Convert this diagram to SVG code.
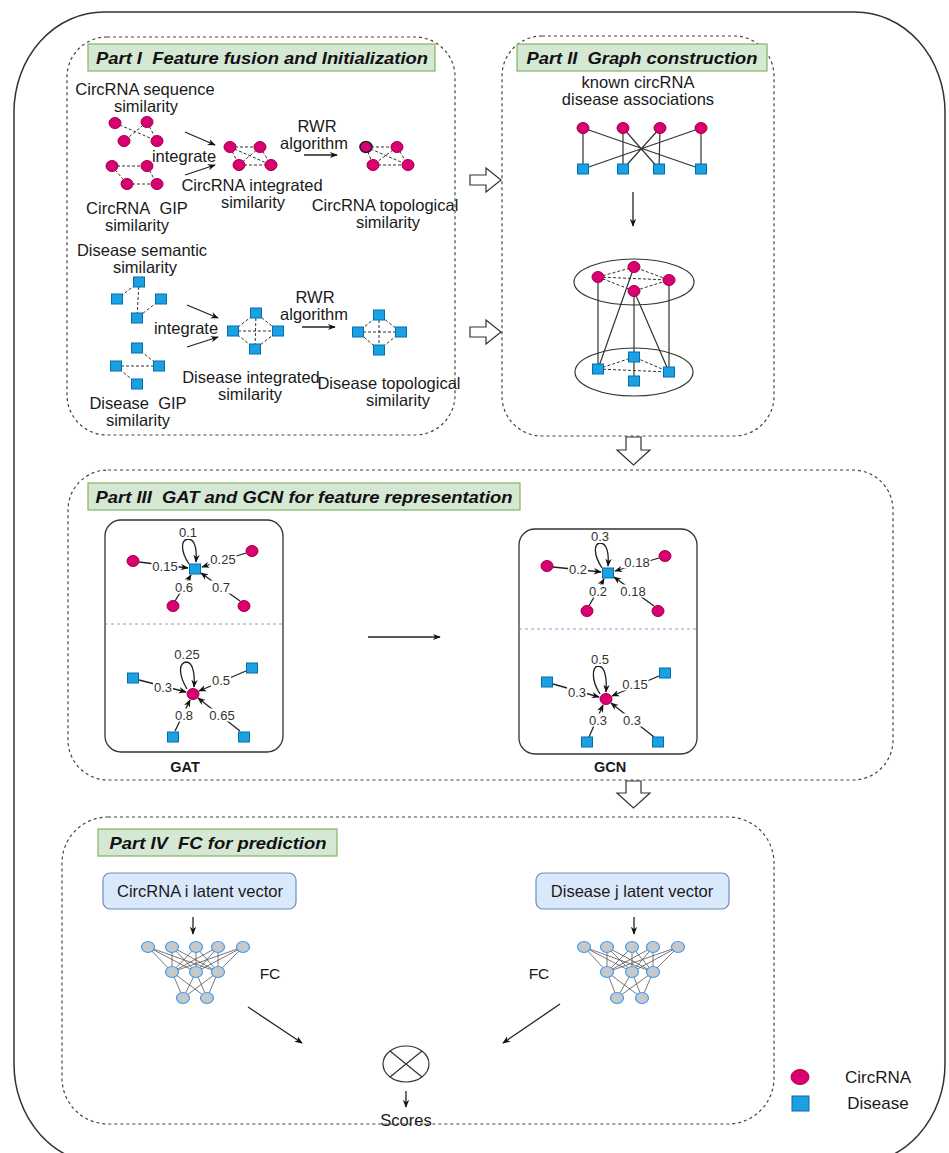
<svg xmlns="http://www.w3.org/2000/svg" xmlns:xlink="http://www.w3.org/1999/xlink" width="949" height="1153" viewBox="0 0 949 1153">
<style>
text{font-family:"Liberation Sans",Arial,sans-serif;fill:#1a1a1a;dominant-baseline:central;text-anchor:middle}
.lbl{font-size:16.5px}
.ttl{font-size:16.5px;font-weight:bold;font-style:italic;fill:#111}
.num{font-size:13px;fill:#333}
.nb{fill:#fff;stroke:none}
.part{fill:none;stroke:#444;stroke-width:1.2;stroke-dasharray:3 3}
.tbox{fill:#d5e8d4;stroke:#82b366;stroke-width:1.2}
.c{fill:#d80073;stroke:#a50040;stroke-width:1}
.d{fill:#1ba1e2;stroke:#006eaf;stroke-width:1}
.dash{stroke:#333;stroke-width:1;stroke-dasharray:3 2;fill:none}
.sol{stroke:#333;stroke-width:1.2;fill:none}
.arr{stroke:#222;stroke-width:1.3;fill:none;marker-end:url(#ah)}
.hollow{fill:#fff;stroke:#333;stroke-width:1.2}
.fc{fill:#c8c8c8;stroke:#3d9bf5;stroke-width:1.2}
.fcl{stroke:#555;stroke-width:0.8}
.vec{fill:#dae8fc;stroke:#6c8ebf;stroke-width:1.2}
</style>
<defs>
<marker id="ah" viewBox="0 0 10 10" refX="9" refY="5" markerWidth="8" markerHeight="8" markerUnits="userSpaceOnUse" orient="auto">
<path d="M0,1 L10,5 L0,9 L3,5 z" fill="#111"/>
</marker>
<ellipse id="cn" rx="6" ry="5.5"/>
<rect id="sq" x="-5.5" y="-5" width="11" height="10"/>
</defs>

<rect id="frame" x="14" y="12" width="931" height="1152" rx="90" ry="100" fill="none" stroke="#333" stroke-width="1.5"/>

<!-- Part I -->
<g id="part1">
<rect class="part" x="67" y="37" width="388" height="398" rx="40"/>
<rect class="tbox" x="88" y="44" width="347" height="27"/>
<text class="ttl" x="262" y="58" textLength="332" lengthAdjust="spacingAndGlyphs">Part I&#160; Feature fusion and Initialization</text>
</g>

<g id="circ-seq">
<line class="dash" x1="115" y1="123" x2="157" y2="141"/><line class="dash" x1="147" y1="122" x2="124" y2="141"/><line class="dash" x1="147" y1="122" x2="157" y2="141"/>
<use href="#cn" class="c" x="115" y="123"/><use href="#cn" class="c" x="147" y="122"/><use href="#cn" class="c" x="124" y="141"/><use href="#cn" class="c" x="157" y="141"/>
<text class="lbl" x="145" y="89">CircRNA sequence</text><text class="lbl" x="146" y="106">similarity</text>
</g>
<g id="circ-gip">
<line class="dash" x1="112" y1="166" x2="147" y2="166"/><line class="dash" x1="112" y1="166" x2="127" y2="184"/><line class="dash" x1="147" y1="166" x2="157" y2="184"/><line class="dash" x1="127" y1="184" x2="157" y2="184"/>
<use href="#cn" class="c" x="112" y="166"/><use href="#cn" class="c" x="147" y="166"/><use href="#cn" class="c" x="127" y="184"/><use href="#cn" class="c" x="157" y="184"/>
<text class="lbl" x="137" y="208">CircRNA&#160; GIP</text><text class="lbl" x="137" y="225">similarity</text>
</g>
<g id="circ-int">
<line class="dash" x1="230" y1="147" x2="260" y2="147"/><line class="dash" x1="230" y1="147" x2="271" y2="165"/><line class="dash" x1="260" y1="147" x2="239" y2="165"/><line class="dash" x1="239" y1="165" x2="271" y2="165"/><line class="dash" x1="260" y1="147" x2="271" y2="165"/><line class="dash" x1="230" y1="147" x2="239" y2="165"/>
<use href="#cn" class="c" x="230" y="147"/><use href="#cn" class="c" x="260" y="147"/><use href="#cn" class="c" x="239" y="165"/><use href="#cn" class="c" x="271" y="165"/>
<text class="lbl" x="252" y="185">CircRNA integrated</text><text class="lbl" x="253" y="202">similarity</text>
</g>
<g id="circ-topo">
<line class="dash" x1="366" y1="147" x2="397" y2="147"/><line class="dash" x1="366" y1="147" x2="408" y2="165"/><line class="dash" x1="397" y1="147" x2="373" y2="165"/><line class="dash" x1="373" y1="165" x2="408" y2="165"/><line class="dash" x1="397" y1="147" x2="408" y2="165"/><line class="dash" x1="366" y1="147" x2="373" y2="165"/>
<use href="#cn" class="c" x="366" y="147" style="stroke:#222;stroke-width:1.6"/><use href="#cn" class="c" x="397" y="147"/><use href="#cn" class="c" x="373" y="165"/><use href="#cn" class="c" x="408" y="165"/>
<text class="lbl" x="385" y="205">CircRNA topological</text><text class="lbl" x="388" y="222">similarity</text>
</g>

<g id="dis-sem">
<line class="dash" x1="139" y1="282" x2="117" y2="299"/><line class="dash" x1="139" y1="282" x2="137" y2="318"/><line class="dash" x1="161" y1="299" x2="137" y2="318"/>
<use href="#sq" class="d" x="139" y="282"/><use href="#sq" class="d" x="117" y="299"/><use href="#sq" class="d" x="161" y="299"/><use href="#sq" class="d" x="137" y="318"/>
<text class="lbl" x="142" y="250">Disease semantic</text><text class="lbl" x="145" y="267">similarity</text>
</g>
<g id="dis-gip">
<line class="dash" x1="116" y1="366" x2="159" y2="366"/><line class="dash" x1="137" y1="348" x2="159" y2="366"/><line class="dash" x1="116" y1="366" x2="137" y2="384"/>
<use href="#sq" class="d" x="137" y="348"/><use href="#sq" class="d" x="116" y="366"/><use href="#sq" class="d" x="159" y="366"/><use href="#sq" class="d" x="137" y="384"/>
<text class="lbl" x="138" y="403">Disease&#160; GIP</text><text class="lbl" x="138" y="420">similarity</text>
</g>
<g id="dis-int">
<path class="dash" d="M256,313 L233,331 L255,349 L278,331 Z M233,331 L278,331 M256,313 L255,349"/>
<use href="#sq" class="d" x="256" y="313"/><use href="#sq" class="d" x="233" y="331"/><use href="#sq" class="d" x="278" y="331"/><use href="#sq" class="d" x="255" y="349"/>
<text class="lbl" x="251" y="377">Disease integrated</text><text class="lbl" x="250" y="394">similarity</text>
</g>
<g id="dis-topo">
<path class="dash" d="M379,315 L358,332 L379,350 L401,332 Z M358,332 L401,332 M379,315 L379,350"/>
<use href="#sq" class="d" x="379" y="315"/><use href="#sq" class="d" x="358" y="332"/><use href="#sq" class="d" x="401" y="332"/><use href="#sq" class="d" x="379" y="350"/>
<text class="lbl" x="389" y="383">Disease topological</text><text class="lbl" x="398" y="400">similarity</text>
</g>

<g id="part1-labels">
<text class="lbl" x="184" y="156">integrate</text>
<text class="lbl" x="317" y="126">RWR</text><text class="lbl" x="314" y="143">algorithm</text>
<text class="lbl" x="186" y="328">integrate</text>
<text class="lbl" x="315" y="297">RWR</text><text class="lbl" x="314" y="314">algorithm</text>
</g>

<!-- Part II -->
<g id="part2">
<rect class="part" x="502" y="36" width="272" height="400" rx="40"/>
<rect class="tbox" x="517" y="44" width="250" height="27"/>
<text class="ttl" x="642" y="58" textLength="231" lengthAdjust="spacingAndGlyphs">Part II&#160; Graph construction</text>
<text class="lbl" x="638" y="82">known circRNA</text><text class="lbl" x="638" y="99">disease associations</text>
</g>
<g id="bipartite">
<path class="sol" d="M583,128 L583,169 M583,128 L701,169 M623,128 L623,169 M623,128 L659,169 M660,128 L659,169 M660,128 L623,169 M701,128 L701,169 M701,128 L583,169"/>
<use href="#cn" class="c" x="583" y="128"/><use href="#cn" class="c" x="623" y="128"/><use href="#cn" class="c" x="660" y="128"/><use href="#cn" class="c" x="701" y="128"/>
<use href="#sq" class="d" x="583" y="169"/><use href="#sq" class="d" x="623" y="169"/><use href="#sq" class="d" x="659" y="169"/><use href="#sq" class="d" x="701" y="169"/>
</g>
<g id="hetero-graph">
<ellipse cx="634" cy="282" rx="60" ry="23" class="sol"/>
<ellipse cx="634" cy="372" rx="59" ry="24" class="sol"/>
<path class="dash" d="M598,277 L634,267 L669,280 M598,277 L669,280 M598,277 L634,291 L669,280"/>
<path class="dash" d="M598,369 L634,357 L669,372 M598,369 L669,372"/>
<path class="sol" d="M598,277 L598,369 M634,267 L598,369 M634,291 L634,381 M634,291 L669,372 M669,280 L669,372"/>
<use href="#cn" class="c" x="598" y="277"/><use href="#cn" class="c" x="634" y="267"/><use href="#cn" class="c" x="669" y="280"/><use href="#cn" class="c" x="634" y="291"/>
<use href="#sq" class="d" x="598" y="369"/><use href="#sq" class="d" x="634" y="357"/><use href="#sq" class="d" x="669" y="372"/><use href="#sq" class="d" x="634" y="381"/>
</g>

<!-- Part III -->
<g id="part3">
<rect class="part" x="68" y="470" width="825" height="310" rx="40"/>
<rect class="tbox" x="88" y="483" width="432" height="27"/>
<text class="ttl" x="304" y="497" textLength="417" lengthAdjust="spacingAndGlyphs">Part III&#160; GAT and GCN for feature representation</text>
</g>
<g id="gat">
<rect x="105" y="520" width="178" height="232" rx="16" fill="none" stroke="#333" stroke-width="1.3"/>
<line x1="105" y1="624" x2="283" y2="624" stroke="#7ea6e0" stroke-width="1" stroke-dasharray="3 3"/>
<text x="185" y="767" style="font-size:14.5px;font-weight:bold">GAT</text>
<line class="arr" x1="139" y1="562" x2="188" y2="568"/>
<line class="arr" x1="246" y1="553" x2="202" y2="567"/>
<line class="arr" x1="175" y1="601" x2="191" y2="575"/>
<line class="arr" x1="240" y1="601" x2="201" y2="573"/>
<path class="arr" d="M189,564 C180,550 181,540 188,539 C195,539 197,549 196,562"/>
<use href="#sq" class="d" x="195" y="569"/>
<use href="#cn" class="c" x="133" y="561"/><use href="#cn" class="c" x="252" y="551"/><use href="#cn" class="c" x="173" y="606"/><use href="#cn" class="c" x="244" y="606"/>
<rect class="nb" x="178" y="526" width="20" height="13"/><rect class="nb" x="151.5" y="559.5" width="27" height="13"/><rect class="nb" x="209.5" y="552.5" width="27" height="13"/><rect class="nb" x="174" y="580.5" width="20" height="13"/><rect class="nb" x="211" y="580.5" width="20" height="13"/>
<text class="num" x="188" y="532">0.1</text><text class="num" x="165" y="566">0.15</text><text class="num" x="223" y="559">0.25</text><text class="num" x="184" y="587">0.6</text><text class="num" x="221" y="587">0.7</text>
<line class="arr" x1="139" y1="680" x2="186" y2="692"/>
<line class="arr" x1="246" y1="671" x2="199" y2="691"/>
<line class="arr" x1="175" y1="731" x2="190" y2="700"/>
<line class="arr" x1="240" y1="731" x2="198" y2="698"/>
<path class="arr" d="M187,689 C178,674 179,663 186,662 C193,662 195,674 194,687"/>
<use href="#cn" class="c" x="193" y="694"/>
<use href="#sq" class="d" x="133" y="678"/><use href="#sq" class="d" x="252" y="668"/><use href="#sq" class="d" x="173" y="737"/><use href="#sq" class="d" x="244" y="737"/>
<rect class="nb" x="173.5" y="648" width="27" height="13"/><rect class="nb" x="153" y="680.5" width="20" height="13"/><rect class="nb" x="211" y="673.5" width="20" height="13"/><rect class="nb" x="174" y="708.5" width="20" height="13"/><rect class="nb" x="208.5" y="708.5" width="27" height="13"/>
<text class="num" x="187" y="654">0.25</text><text class="num" x="163" y="687">0.3</text><text class="num" x="221" y="680">0.5</text><text class="num" x="184" y="715">0.8</text><text class="num" x="222" y="715">0.65</text>
</g>
<g id="gcn">
<rect x="519" y="529" width="178" height="225" rx="16" fill="none" stroke="#333" stroke-width="1.3"/>
<line x1="519" y1="629" x2="697" y2="629" stroke="#7ea6e0" stroke-width="1" stroke-dasharray="3 3"/>
<text x="610" y="767" style="font-size:14.5px;font-weight:bold">GCN</text>
<line class="arr" x1="553" y1="567" x2="601" y2="572"/>
<line class="arr" x1="659" y1="558" x2="615" y2="571"/>
<line class="arr" x1="589" y1="606" x2="604" y2="579"/>
<line class="arr" x1="654" y1="606" x2="614" y2="577"/>
<path class="arr" d="M602,568 C593,554 594,544 600,543 C607,543 609,553 608,566"/>
<use href="#sq" class="d" x="608" y="573"/>
<use href="#cn" class="c" x="547" y="566"/><use href="#cn" class="c" x="665" y="556"/><use href="#cn" class="c" x="587" y="611"/><use href="#cn" class="c" x="658" y="611"/>
<rect class="nb" x="590" y="530" width="20" height="13"/><rect class="nb" x="568" y="562.5" width="20" height="13"/><rect class="nb" x="623.5" y="555.5" width="27" height="13"/><rect class="nb" x="588" y="584.5" width="20" height="13"/><rect class="nb" x="619.5" y="584.5" width="27" height="13"/>
<text class="num" x="600" y="536">0.3</text><text class="num" x="578" y="569">0.2</text><text class="num" x="637" y="562">0.18</text><text class="num" x="598" y="591">0.2</text><text class="num" x="633" y="591">0.18</text>
<line class="arr" x1="553" y1="684" x2="599" y2="697"/>
<line class="arr" x1="659" y1="676" x2="612" y2="696"/>
<line class="arr" x1="589" y1="737" x2="603" y2="705"/>
<line class="arr" x1="654" y1="737" x2="611" y2="703"/>
<path class="arr" d="M600,694 C591,680 592,667 598,666 C605,666 607,678 606,692"/>
<use href="#cn" class="c" x="606" y="699"/>
<use href="#sq" class="d" x="547" y="682"/><use href="#sq" class="d" x="665" y="673"/><use href="#sq" class="d" x="587" y="742"/><use href="#sq" class="d" x="658" y="742"/>
<rect class="nb" x="590" y="653" width="20" height="13"/><rect class="nb" x="567" y="685.5" width="20" height="13"/><rect class="nb" x="621.5" y="677.5" width="27" height="13"/><rect class="nb" x="588" y="713.5" width="20" height="13"/><rect class="nb" x="622" y="713.5" width="20" height="13"/>
<text class="num" x="600" y="659">0.5</text><text class="num" x="577" y="692">0.3</text><text class="num" x="635" y="684">0.15</text><text class="num" x="598" y="720">0.3</text><text class="num" x="632" y="720">0.3</text>
</g>

<!-- Part IV -->
<g id="part4">
<rect class="part" x="62" y="817" width="712" height="307" rx="46"/>
<rect class="tbox" x="98" y="829" width="239" height="27"/>
<text class="ttl" x="218" y="843" textLength="217" lengthAdjust="spacingAndGlyphs">Part IV&#160; FC for prediction</text>
</g>
<g id="circ-vec">
<rect class="vec" x="103" y="873" width="193" height="36" rx="7"/>
<text class="lbl" x="200" y="891">CircRNA i latent vector</text>
</g>
<g id="dis-vec">
<rect class="vec" x="536" y="873" width="193" height="36" rx="7"/>
<text class="lbl" x="632" y="891">Disease j latent vector</text>
</g>
<g id="fc-left">
<path class="fcl" d="M148,947 L172,972 M148,947 L196,972 M148,947 L218,972 M172,947 L172,972 M172,947 L196,972 M172,947 L218,972 M196,947 L172,972 M196,947 L196,972 M196,947 L218,972 M218,947 L172,972 M218,947 L196,972 M218,947 L218,972 M243,947 L172,972 M243,947 L196,972 M243,947 L218,972 M172,972 L183,998 M172,972 L207,998 M196,972 L183,998 M196,972 L207,998 M218,972 L183,998 M218,972 L207,998"/>
<ellipse class="fc" cx="148" cy="947" rx="6.5" ry="5.5"/><ellipse class="fc" cx="172" cy="947" rx="6.5" ry="5.5"/><ellipse class="fc" cx="196" cy="947" rx="6.5" ry="5.5"/><ellipse class="fc" cx="218" cy="947" rx="6.5" ry="5.5"/><ellipse class="fc" cx="243" cy="947" rx="6.5" ry="5.5"/>
<ellipse class="fc" cx="172" cy="972" rx="6.5" ry="5.5"/><ellipse class="fc" cx="196" cy="972" rx="6.5" ry="5.5"/><ellipse class="fc" cx="218" cy="972" rx="6.5" ry="5.5"/>
<ellipse class="fc" cx="183" cy="998" rx="6.5" ry="5.5"/><ellipse class="fc" cx="207" cy="998" rx="6.5" ry="5.5"/>
<text x="270" y="973" style="font-size:15.5px">FC</text>
</g>
<g id="fc-right">
<path class="fcl" d="M584,947 L607,972 M584,947 L632,972 M584,947 L653,972 M607,947 L607,972 M607,947 L632,972 M607,947 L653,972 M632,947 L607,972 M632,947 L632,972 M632,947 L653,972 M653,947 L607,972 M653,947 L632,972 M653,947 L653,972 M678,947 L607,972 M678,947 L632,972 M678,947 L653,972 M607,972 L617,998 M607,972 L642,998 M632,972 L617,998 M632,972 L642,998 M653,972 L617,998 M653,972 L642,998"/>
<ellipse class="fc" cx="584" cy="947" rx="6.5" ry="5.5"/><ellipse class="fc" cx="607" cy="947" rx="6.5" ry="5.5"/><ellipse class="fc" cx="632" cy="947" rx="6.5" ry="5.5"/><ellipse class="fc" cx="653" cy="947" rx="6.5" ry="5.5"/><ellipse class="fc" cx="678" cy="947" rx="6.5" ry="5.5"/>
<ellipse class="fc" cx="607" cy="972" rx="6.5" ry="5.5"/><ellipse class="fc" cx="632" cy="972" rx="6.5" ry="5.5"/><ellipse class="fc" cx="653" cy="972" rx="6.5" ry="5.5"/>
<ellipse class="fc" cx="617" cy="998" rx="6.5" ry="5.5"/><ellipse class="fc" cx="642" cy="998" rx="6.5" ry="5.5"/>
<text x="539" y="973" style="font-size:15.5px">FC</text>
</g>
<g id="product">
<ellipse cx="406" cy="1064" rx="23" ry="18" class="sol"/>
<path class="sol" d="M390,1051 L422,1077 M422,1051 L390,1077"/>
<text class="lbl" x="406" y="1120">Scores</text>
</g>

<!-- Legend -->
<g id="legend">
<ellipse cx="800" cy="1077" rx="9" ry="7.5" class="c"/>
<rect x="792" y="1096" width="17" height="15" class="d"/>
<text x="878" y="1077" style="font-size:17px">CircRNA</text>
<text x="878" y="1103" style="font-size:17px">Disease</text>
</g>

<!-- Connectors -->
<g id="connectors">
<line class="arr" x1="185" y1="132" x2="215" y2="145"/>
<line class="arr" x1="185" y1="175" x2="215" y2="165"/>
<line class="arr" x1="304" y1="155" x2="337" y2="155"/>
<line class="arr" x1="187" y1="305" x2="218" y2="318"/>
<line class="arr" x1="187" y1="347" x2="218" y2="337"/>
<line class="arr" x1="302" y1="327" x2="335" y2="327"/>
<line class="arr" x1="633" y1="192" x2="633" y2="226"/>
<polygon class="hollow" points="470,175 486,175 486,168 501,180 486,192 486,185 470,185"/>
<polygon class="hollow" points="470,327 486,327 486,320 501,332 486,344 486,337 470,337"/>
<polygon class="hollow" points="626,437 641,437 641,450 650,450 633.5,465 617,450 626,450"/>
<polygon class="hollow" points="626,781 641,781 641,793 650,793 633.5,808 617,793 626,793"/>
<line class="arr" x1="368" y1="637" x2="440" y2="637"/>
<line class="arr" x1="193" y1="917" x2="193" y2="934"/>
<line class="arr" x1="634" y1="917" x2="634" y2="934"/>
<line class="arr" x1="248" y1="1007" x2="302" y2="1043"/>
<line class="arr" x1="560" y1="1004" x2="503" y2="1043"/>
<line class="arr" x1="406" y1="1091" x2="406" y2="1107"/>
</g>
</svg>
